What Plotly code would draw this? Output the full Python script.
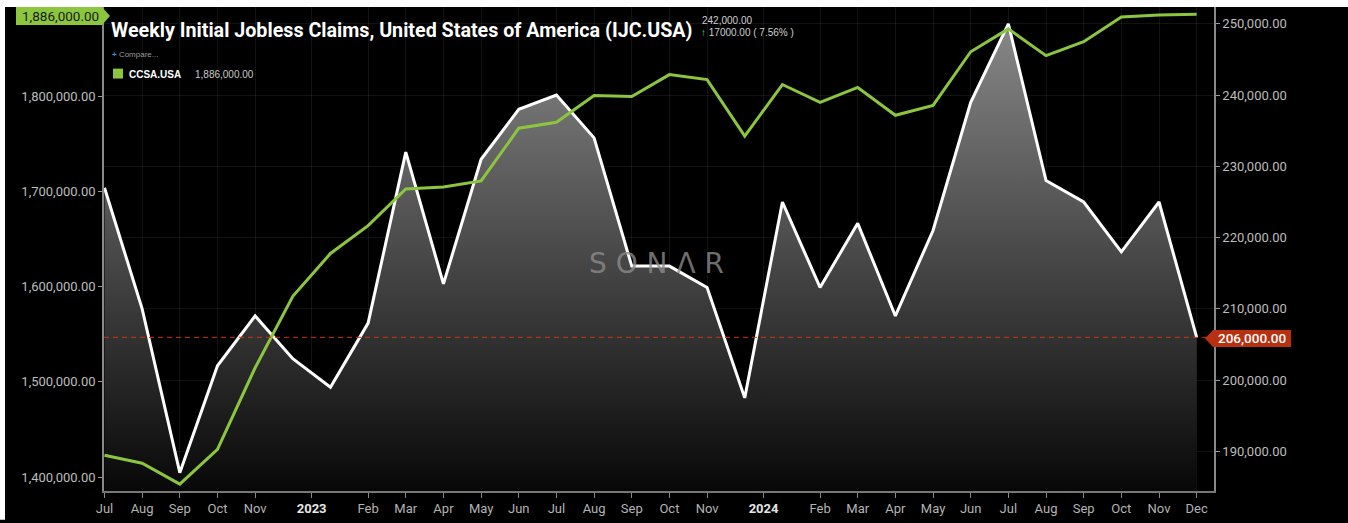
import plotly.graph_objects as go

# ---------------- data ----------------
months = ["2022-07", "2022-08", "2022-09", "2022-10", "2022-11", "2022-12",
          "2023-01", "2023-02", "2023-03", "2023-04", "2023-05", "2023-06",
          "2023-07", "2023-08", "2023-09", "2023-10", "2023-11", "2023-12",
          "2024-01", "2024-02", "2024-03", "2024-04", "2024-05", "2024-06",
          "2024-07", "2024-08", "2024-09", "2024-10", "2024-11", "2024-12"]

# Weekly initial jobless claims (IJC.USA) - right axis
ijc = [227000, 210000, 187000, 202000, 209000, 203000,
       199000, 208000, 232000, 213500, 231000, 238000,
       240000, 234000, 216000, 216000, 213000, 197500,
       225000, 213000, 222000, 209000, 221000, 239000,
       250000, 228000, 225000, 218000, 225000, 206000]

# Continuing claims (CCSA.USA) - left axis
ccsa = [1423000, 1414600, 1392700, 1429200, 1514800, 1589900,
        1634800, 1664000, 1702600, 1704700, 1711000, 1766300,
        1772500, 1800700, 1799700, 1822600, 1817400, 1758000,
        1812200, 1793400, 1809100, 1779900, 1790300, 1846600,
        1870600, 1842500, 1857100, 1883200, 1885300, 1886000]

tick_pos = [0, 1, 2, 3, 4, 5.5, 7, 8, 9, 10, 11, 12, 13, 14, 15, 16, 17.5,
            19, 20, 21, 22, 23, 24, 25, 26, 27, 28, 29]
tick_labels = ["Jul", "Aug", "Sep", "Oct", "Nov", "2023", "Feb", "Mar", "Apr",
               "May", "Jun", "Jul", "Aug", "Sep", "Oct", "Nov", "2024", "Feb",
               "Mar", "Apr", "May", "Jun", "Jul", "Aug", "Sep", "Oct", "Nov", "Dec"]

title_text = "Weekly Initial Jobless Claims, United States of America (IJC.USA)"
last_ijc_label = "206,000.00"
last_ccsa_label = "1,886,000.00"

# ---------------- layout geometry ----------------
FIG_W, FIG_H = 1348, 523
L, R, T, B = 104, 1214, 7, 494
PW, PH = R - L, B - T


def px(x):
    return (x - L) / PW


def py(y):
    return (B - y) / PH


x_idx = list(range(len(months)))
ticktext = []
for t in tick_labels:
    if t.isdigit():
        ticktext.append("<b><span style='color:#e6e6e6'>" + t + "</span></b>")
    else:
        ticktext.append(t)

fig = go.Figure()

# IJC - white line with gradient fill (primary axis placed on right)
fig.add_trace(go.Scatter(
    x=x_idx, y=ijc, mode="lines", name="IJC.USA",
    line=dict(color="#ffffff", width=3),
    fill="tozeroy",
    fillgradient=dict(type="vertical",
                      colorscale=[[0, "#070707"], [1, "#8c8c8c"]],
                      start=184430, stop=252370),
    yaxis="y", hoverinfo="skip", showlegend=False,
))

# CCSA - green line on left axis (overlay)
fig.add_trace(go.Scatter(
    x=x_idx, y=ccsa, mode="lines", name="CCSA.USA",
    line=dict(color="#8CC63F", width=3),
    yaxis="y2", hoverinfo="skip", showlegend=False,
))

tickfont = dict(family="Roboto", size=13, color="#bdbdbd")

fig.update_layout(
    width=FIG_W, height=FIG_H,
    margin=dict(l=L, r=FIG_W - R, t=T, b=FIG_H - B, pad=0),
    paper_bgcolor="#000000", plot_bgcolor="#000000",
    showlegend=False,
    xaxis=dict(
        range=[-0.013, 29.46], tickmode="array", tickvals=tick_pos, ticktext=ticktext,
        showgrid=True, gridcolor="rgba(255,255,255,0.07)", gridwidth=1,
        showline=True, linecolor="#777777", linewidth=1.5,
        ticks="outside", ticklen=5, tickcolor="#888888",
        tickfont=dict(family="Roboto", size=13, color="#b3b3b3"), zeroline=False,
    ),
    yaxis=dict(
        side="right", range=[184430, 252370], dtick=10000, tick0=0,
        tickformat=",.2f", showgrid=True, gridcolor="rgba(255,255,255,0.07)",
        showline=True, linecolor="#888888", linewidth=1.5,
        ticks="outside", ticklen=4, tickcolor="#999999",
        tickfont=tickfont, zeroline=False,
    ),
    yaxis2=dict(
        side="left", overlaying="y", range=[1385400, 1893600], dtick=100000, tick0=0,
        tickformat=",.2f", showgrid=False,
        showline=True, linecolor="#888888", linewidth=1.5,
        ticks="outside", ticklen=4, tickcolor="#999999",
        tickfont=tickfont, zeroline=False,
    ),
)

shapes = []
# white border strips (top & left)
shapes.append(dict(type="rect", xref="paper", yref="paper", x0=px(0), x1=px(FIG_W),
                   y0=py(7), y1=py(0), fillcolor="#ffffff", line=dict(width=0), layer="above"))
shapes.append(dict(type="rect", xref="paper", yref="paper", x0=px(0), x1=px(5),
                   y0=py(FIG_H), y1=py(0), fillcolor="#ffffff", line=dict(width=0), layer="above"))
# last value dashed line
shapes.append(dict(type="line", xref="paper", yref="y", x0=0, x1=1,
                   y0=ijc[-1], y1=ijc[-1], line=dict(color="#c8380f", width=1, dash="5px,4px")))


def path(points):
    s = "M " + " L ".join(f"{px(a):.5f},{py(b):.5f}" for a, b in points) + " Z"
    return s


# right red tag
shapes.append(dict(type="path", xref="paper", yref="paper",
                   path=path([(1205, 340.5), (1213, 332), (1291, 332), (1291, 349), (1213, 349)]),
                   fillcolor="#b8300f", line=dict(width=0), layer="above"))
# top-left green tag
shapes.append(dict(type="path", xref="paper", yref="paper",
                   path=path([(16, 7), (102, 7), (110, 16), (102, 25), (16, 25)]),
                   fillcolor="#8CC63F", line=dict(width=0), layer="above"))
# legend square
shapes.append(dict(type="rect", xref="paper", yref="paper", x0=px(113), x1=px(123),
                   y0=py(79), y1=py(69), fillcolor="#8CC63F", line=dict(width=0), layer="above"))
fig.update_layout(shapes=shapes)

ann = []


def add_text(text, x, y, size, color, xanchor="left", family="Roboto", weight=None):
    f = dict(family=family, size=size, color=color)
    if weight:
        f["weight"] = weight
    ann.append(dict(text=text, xref="paper", yref="paper", x=px(x), y=py(y),
                    xanchor=xanchor, yanchor="middle", showarrow=False, font=f))


add_text(title_text, 109, 30.5, 19.7, "#ffffff", family="Roboto", weight=700)
add_text("242,000.00", 700, 21, 10, "#cfcfcf", family="Liberation Sans")
add_text("<span style='color:#3fe0a0'>↑</span> 17000.00 ( 7.56% )", 699, 33, 10, "#cfcfcf",
         family="Liberation Sans")
add_text("<span style='color:#3b8fe6'><b>+</b></span> Compare...", 110, 55, 8, "#9a9a9a",
         family="Liberation Sans")
add_text("<b>CCSA.USA</b>", 127, 74.5, 10, "#ffffff", family="Liberation Sans")
add_text("1,886,000.00", 193, 74.5, 10, "#c8c8c8", family="Liberation Sans")
add_text(last_ccsa_label, 60, 16, 13.5, "#1a1a1a", xanchor="center", family="Roboto")
add_text(last_ijc_label, 1252, 340.5, 13.5, "#ffffff", xanchor="center", family="Roboto", weight=500)
add_text("S O N Λ R", 656, 265, 28,
         "rgba(140,140,140,0.8)", xanchor="center", family="DejaVu Sans", weight=400)
fig.update_layout(annotations=ann)

fig.write_html("out.html", config={"displayModeBar": False},
               post_script="document.body.style.margin='0';document.body.style.overflow='hidden';")
